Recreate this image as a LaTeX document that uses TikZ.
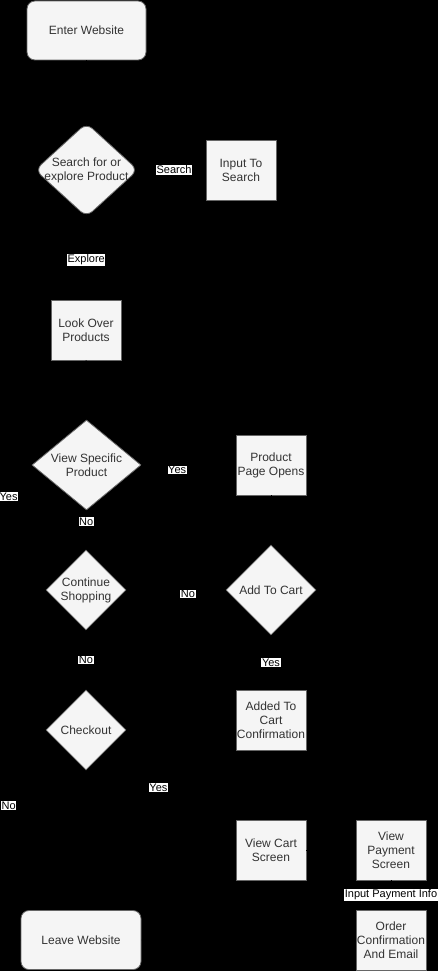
\documentclass[tikz,border=0pt]{standalone}
\usepackage{fontspec}
\setmainfont{Liberation Sans}
\usetikzlibrary{shapes.geometric,arrows.meta}
\definecolor{nodefill}{HTML}{F5F5F5}
\definecolor{nodeline}{HTML}{666666}
\definecolor{nodetext}{HTML}{333333}
\begin{document}
\begin{tikzpicture}[x=1pt,y=-1pt,
 box/.style={draw=nodeline, fill=nodefill, text=nodetext, font=\fontsize{12}{14}\selectfont, align=center, minimum width=70pt, minimum height=60pt, inner sep=0pt, line width=0.8pt},
 term/.style={box, rounded corners=8pt, minimum height=59pt},
 dec/.style={diamond, draw=nodeline, fill=nodefill, inner sep=0pt, line width=0.8pt},
 dtext/.style={text=nodetext, font=\fontsize{12}{14}\selectfont, align=center, inner sep=0pt},
 lbl/.style={fill=white, text=black, font=\fontsize{11}{12}\selectfont, inner sep=0.6pt},
 flow/.style={draw=black, line width=1pt, -{Stealth[length=8pt]}}
]
\fill[black] (0,0) rectangle (438,971);
\useasboundingbox (0,0) rectangle (438,971);

\node[term, minimum width=119pt] (enter) at (86.5,30.5) {Enter Website};
\node[dec, rounded corners=8pt, minimum width=103pt, minimum height=94pt] (search) at (86.5,170) {};
\node[dtext] (searcht) at (search.center) {Search for or\\explore Product};
\node[box] (input) at (241,170) {Input To\\Search};
\node[box] (look) at (86,330) {Look Over\\Products};
\node[dec, minimum width=109pt, minimum height=90pt] (view) at (86.5,465) {};
\node[dtext] (viewt) at (view.center) {View Specific\\Product};
\node[box] (ppo) at (271,465) {Product\\Page Opens};
\node[dec, minimum width=80pt, minimum height=80pt] (cont) at (86,590) {};
\node[dtext] (contt) at (cont.center) {Continue\\Shopping};
\node[dec, minimum width=90pt, minimum height=90pt] (add) at (271,590) {};
\node[dtext] (addt) at (add.center) {Add To Cart};
\node[box] (added) at (271,720) {Added To\\Cart\\Confirmation};
\node[dec, minimum width=80pt, minimum height=80pt] (check) at (86,730) {};
\node[dtext] (checkt) at (check.center) {Checkout};
\node[box] (cart) at (271,850) {View Cart\\Screen};
\node[box] (pay) at (391,850) {View\\Payment\\Screen};
\node[box] (order) at (391,940) {Order\\Confirmation\\And Email};
\node[term, minimum width=120pt] (leave) at (81,940) {Leave Website};

\draw[flow] (enter) -- (search);
\draw[flow] (search) -- node[lbl, pos=0.53]{Search} (input);
\draw[flow] (search) -- node[lbl, pos=0.52]{Explore} (look);
\draw[flow] (look) -- (view);
\draw[flow] (view.east) -- node[lbl, pos=0.38, yshift=-5pt]{Yes} (ppo.west);
\draw[flow] (view) -- node[lbl, pos=0.28]{No} (cont);
\draw[flow] (ppo) -- (add);
\draw[flow] (add) -- node[lbl, pos=0.38, yshift=-4pt]{No} (cont);
\draw[flow] (add) -- node[lbl, pos=0.5]{Yes} (added);
\draw[flow] (cont.west) -- ++(-37,0) |- node[lbl, pos=0.18]{Yes} (look.west);
\draw[flow] (cont) -- node[lbl, pos=0.5]{No} (check);
\draw[flow] (check.east) -- ++(32,0) |- node[lbl, pos=0.24]{Yes} (cart.west);
\draw[flow] (check.west) -- ++(-37,0) |- node[lbl, pos=0.18]{No} (leave.west);
\draw[flow] (cart) -- (pay);
\draw[flow] (pay) -- node[lbl, pos=0.5]{Input Payment Info} (order);
\draw[flow] (order) -- (leave);
\end{tikzpicture}
\end{document}
